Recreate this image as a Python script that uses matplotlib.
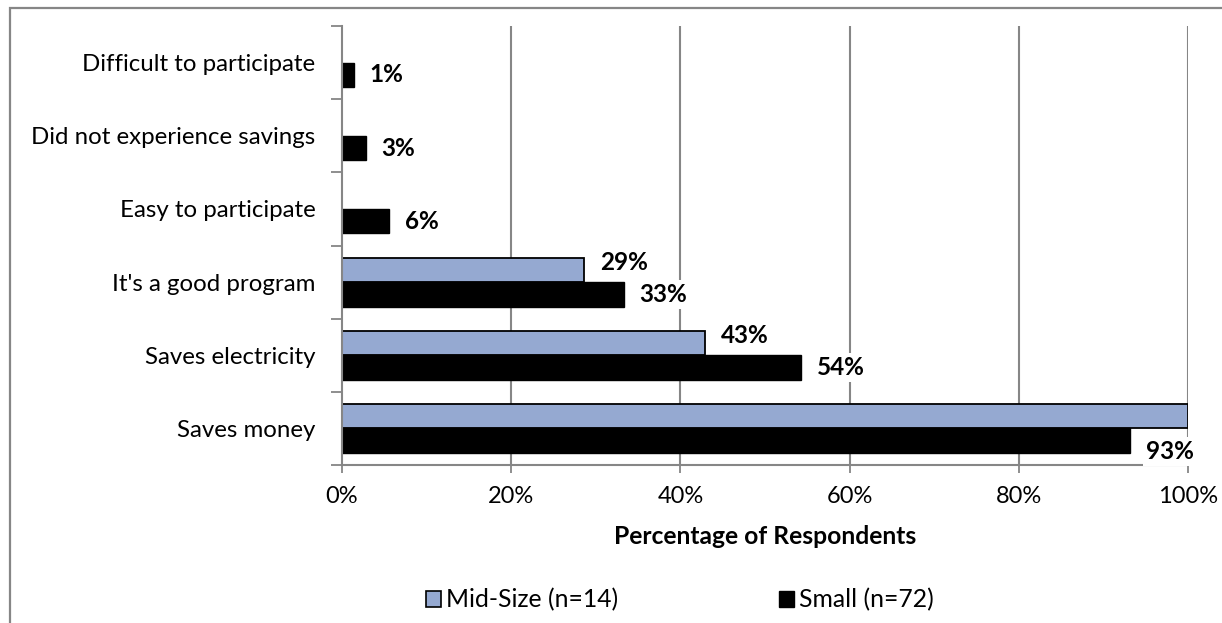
import matplotlib
matplotlib.use("Agg")
import matplotlib.pyplot as plt
from matplotlib.patches import Patch, Rectangle
import numpy as np

# Survey results: share of respondents giving each reason
categories = ["Saves money", "Saves electricity", "It's a good program",
              "Easy to participate", "Did not experience savings",
              "Difficult to participate"]
mid_size = [100.0, 42.9, 28.6, 0.0, 0.0, 0.0]
small = [93.1, 54.2, 33.3, 5.6, 2.8, 1.4]
series_names = ["Mid-Size (n=14)", "Small (n=72)"]
x_ticks = [0, 20, 40, 60, 80, 100]
x_label = "Percentage of Respondents"

plt.rcParams["font.family"] = ["Lato", "DejaVu Sans"]

W, H = 1222, 623
fig = plt.figure(figsize=(W / 100, H / 100), dpi=100)
ax = fig.add_axes([342 / W, 1 - 465 / H, (1188 - 342) / W, (465 - 26) / H])

grey = "#868686"
blue = "#95A9D1"
bar_h = 0.335
y = np.arange(len(categories))

# zero-valued bars get no outline so the axis line stays clean
ax.barh(y + bar_h / 2, mid_size, height=bar_h, color=blue,
        edgecolor="black", linewidth=[1.3 if v > 0 else 0 for v in mid_size],
        zorder=3)
ax.barh(y - bar_h / 2, small, height=bar_h, color="black",
        edgecolor="black", linewidth=[1.0 if v > 0 else 0 for v in small],
        zorder=3)

label_kw = dict(textcoords="offset pixels", ha="left", va="center",
                fontsize=17.5, fontweight="bold", zorder=6,
                annotation_clip=False,
                bbox=dict(boxstyle="square,pad=0.12", fc="white", ec="none"))
for yi, v in zip(y, mid_size):
    if 0 < v < 100:
        ax.annotate(f"{v:.0f}%", xy=(v, yi + bar_h / 2), xytext=(16, 7), **label_kw)
for yi, v in zip(y, small):
    if v > 0:
        dy = -11 if v > 90 else 0
        ax.annotate(f"{v:.0f}%", xy=(v, yi - bar_h / 2), xytext=(16, dy), **label_kw)

ax.set_xlim(0, 100)
ax.set_ylim(-0.5, len(categories) - 0.5)
ax.set_xticks(x_ticks)
ax.set_xticklabels([f"{t}%" for t in x_ticks])
ax.set_yticks(y)
ax.set_yticklabels(categories)
ax.set_yticks(np.arange(-0.5, len(categories), 1.0), minor=True)

ax.tick_params(axis="y", which="major", length=0, pad=19, labelsize=17.3)
ax.tick_params(axis="y", which="minor", length=8, width=1.3, color=grey,
               direction="out")
ax.tick_params(axis="x", which="major", length=6, width=1.3, color=grey,
               direction="out", pad=9, labelsize=17)

for s in ["top", "right"]:
    ax.spines[s].set_visible(False)
for s in ["left", "bottom"]:
    ax.spines[s].set_color(grey)
    ax.spines[s].set_linewidth(1.5)
    ax.spines[s].set_zorder(4)

ax.xaxis.grid(True, color=grey, linewidth=1.5, zorder=0)
ax.set_axisbelow(True)
# no gridline on top of the left spine
ax.get_xgridlines()[0].set_visible(False)

ax.set_xlabel(x_label, fontsize=17.7, fontweight="bold", labelpad=13)

handles = [Patch(facecolor=blue, edgecolor="black", linewidth=1.2),
           Patch(facecolor="black", edgecolor="black")]
fig.legend(handles, series_names, loc="center", ncol=2,
           bbox_to_anchor=(680 / W, 1 - 600 / H), frameon=False,
           fontsize=17.8, handlelength=0.6, handleheight=0.6,
           handletextpad=0.2, columnspacing=6.5)

# chart area border
fig.add_artist(Rectangle((10 / W, -0.05), 1.2, 1 - 8 / H + 0.05,
                         transform=fig.transFigure, fill=False,
                         edgecolor=grey, linewidth=1.6))

fig.savefig("out.png", dpi=100, facecolor="white")
